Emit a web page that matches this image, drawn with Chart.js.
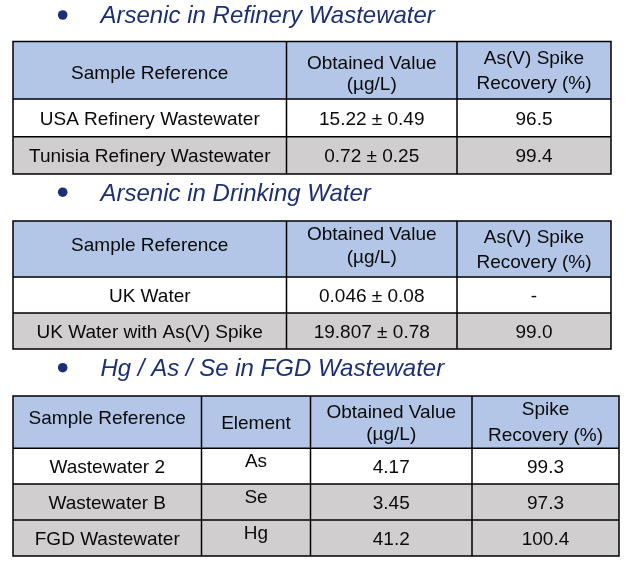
<!DOCTYPE html>
<html>
<head>
<meta charset="utf-8">
<script src="https://cdn.jsdelivr.net/npm/chart.js@4.4.1/dist/chart.umd.min.js"></script>
<style>
    html, body { margin: 0; padding: 0; background: #ffffff; }
    #wrap { width: 627px; height: 567px; }
</style>
</head>
<body>
<div id="wrap"><canvas id="tablesChart" width="627" height="567"></canvas></div>
<script>
// section titles
var titles = ['Arsenic in Refinery Wastewater', 'Arsenic in Drinking Water', 'Hg / As / Se in FGD Wastewater'];

// table 1 - refinery wastewater
var headers1 = [['Sample Reference'], ['Obtained Value', '(µg/L)'], ['As(V) Spike', 'Recovery (%)']];
var samples1 = ['USA Refinery Wastewater', 'Tunisia Refinery Wastewater'];
var values1 = ['15.22 ± 0.49', '0.72 ± 0.25'];
var recovery1 = ['96.5', '99.4'];

// table 2 - drinking water
var headers2 = [['Sample Reference'], ['Obtained Value', '(µg/L)'], ['As(V) Spike', 'Recovery (%)']];
var samples2 = ['UK Water', 'UK Water with As(V) Spike'];
var values2 = ['0.046 ± 0.08', '19.807 ± 0.78'];
var recovery2 = ['-', '99.0'];

// table 3 - FGD wastewater
var headers3 = [['Sample Reference'], ['Element'], ['Obtained Value', '(µg/L)'], ['Spike', 'Recovery (%)']];
var samples3 = ['Wastewater 2', 'Wastewater B', 'FGD Wastewater'];
var elements3 = ['As', 'Se', 'Hg'];
var values3 = ['4.17', '3.45', '41.2'];
var recovery3 = ['99.3', '97.3', '100.4'];

var COLORS = {
    title:  '#1c2f74',
    header: '#b4c6e7',
    shade:  '#d0cece',
    plain:  '#ffffff',
    text:   '#0a0a0a',
    rule:   '#000000',
};

// geometry in page units (the hidden axes map 1 unit to 1 pixel)
var LAYOUT = [
    {
        titleY: 23.3,
        cols: [13, 286.5, 457, 611],
        rows: [41.5, 99, 136.7, 174],
        headLines: [[37.5], [27, 48], [22, 47]],
        shaded: [false, true],
        shift: [0, 0, 0],
    },
    {
        titleY: 200.5,
        cols: [13, 286.5, 457, 611],
        rows: [221, 277, 313, 349],
        headLines: [[30], [19, 41.7], [22.3, 47.3]],
        shaded: [false, true],
        shift: [0, 0, 0],
    },
    {
        titleY: 376,
        cols: [13, 201.5, 310.5, 472, 619],
        rows: [396, 448.3, 484, 520, 556],
        headLines: [[28], [32.7], [22.3, 44], [19, 44.7]],
        shaded: [false, true, true],
        shift: [0, -5.5, 0, 0],
    },
];

var TABLES = [
    { headers: headers1, columns: [samples1, values1, recovery1] },
    { headers: headers2, columns: [samples2, values2, recovery2] },
    { headers: headers3, columns: [samples3, elements3, values3, recovery3] },
];

var tablePlugin = {
    id: 'tablePlugin',
    afterDraw: function (chart) {
        var ctx = chart.ctx;
        var xs = chart.scales.x;
        var ys = chart.scales.y;
        function px(v) { return xs.getPixelForValue(v); }
        function py(v) { return ys.getPixelForValue(v); }

        ctx.save();
        TABLES.forEach(function (table, t) {
            var lay = LAYOUT[t];
            var cols = lay.cols;
            var rows = lay.rows;

            // bullet + title
            ctx.fillStyle = COLORS.title;
            ctx.beginPath();
            ctx.arc(px(62.7), py(lay.titleY - 8.3), 4.8, 0, Math.PI * 2);
            ctx.fill();
            ctx.font = 'italic 24px "Liberation Sans", Arial, sans-serif';
            ctx.textAlign = 'left';
            ctx.textBaseline = 'alphabetic';
            ctx.fillText(titles[t], px(100.5), py(lay.titleY));

            // cell backgrounds
            ctx.fillStyle = COLORS.header;
            ctx.fillRect(px(cols[0]), py(rows[0]), px(cols[cols.length - 1]) - px(cols[0]), py(rows[1]) - py(rows[0]));
            for (var r = 0; r < lay.shaded.length; r++) {
                ctx.fillStyle = lay.shaded[r] ? COLORS.shade : COLORS.plain;
                ctx.fillRect(px(cols[0]), py(rows[r + 1]), px(cols[cols.length - 1]) - px(cols[0]), py(rows[r + 2]) - py(rows[r + 1]));
            }

            // text
            ctx.fillStyle = COLORS.text;
            ctx.font = '19px "Liberation Sans", Arial, sans-serif';
            ctx.textAlign = 'center';
            table.headers.forEach(function (lines, c) {
                var cx = (cols[c] + cols[c + 1]) / 2;
                lines.forEach(function (line, i) {
                    ctx.fillText(line, px(cx), py(rows[0] + lay.headLines[c][i]));
                });
            });
            table.columns.forEach(function (col, c) {
                var cx = (cols[c] + cols[c + 1]) / 2;
                col.forEach(function (cell, r) {
                    var cy = (rows[r + 1] + rows[r + 2]) / 2 + 6.8 + lay.shift[c];
                    ctx.fillText(cell, px(cx), py(cy));
                });
            });

            // rules
            ctx.strokeStyle = COLORS.rule;
            ctx.lineWidth = 1.5;
            ctx.beginPath();
            rows.forEach(function (y) {
                ctx.moveTo(px(cols[0]) - 0.75, py(y));
                ctx.lineTo(px(cols[cols.length - 1]) + 0.75, py(y));
            });
            cols.forEach(function (x) {
                ctx.moveTo(px(x), py(rows[0]));
                ctx.lineTo(px(x), py(rows[rows.length - 1]));
            });
            ctx.stroke();
        });
        ctx.restore();
    },
};

new Chart(document.getElementById('tablesChart'), {
    type: 'scatter',
    data: { datasets: [] },
    options: {
        responsive: false,
        animation: false,
        layout: { padding: 0 },
        plugins: { legend: { display: false }, tooltip: { enabled: false } },
        scales: {
            x: { type: 'linear', display: false, min: 0, max: 627 },
            y: { type: 'linear', display: false, min: 0, max: 567, reverse: true },
        },
    },
    plugins: [tablePlugin],
});
</script>
</body>
</html>
